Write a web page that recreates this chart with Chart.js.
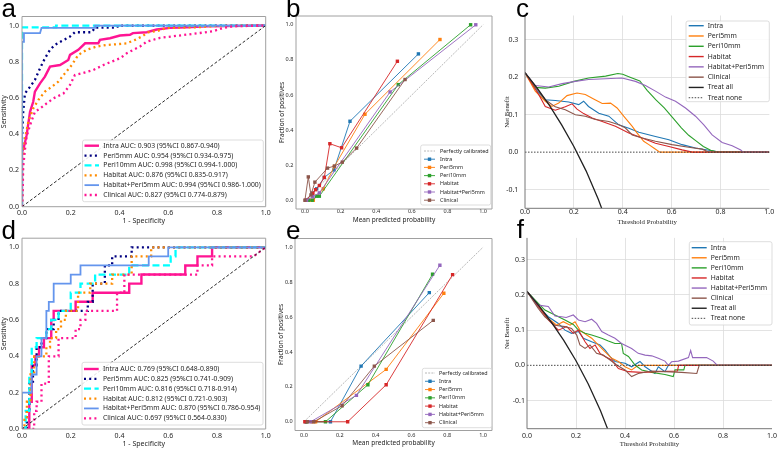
<!DOCTYPE html>
<html>
<head>
<meta charset="utf-8">
<script src="https://cdn.jsdelivr.net/npm/chart.js@4.4.1/dist/chart.umd.min.js"></script>
<style>
    html, body { margin: 0; padding: 0; background: #fff; }
    #wrap { position: relative; width: 777px; height: 449px; overflow: hidden; }
    #wrap canvas { position: absolute; left: 0; top: 0; }
</style>
</head>
<body>
<div id="wrap">
    <canvas id="pa" width="777" height="449"></canvas>
    <canvas id="pb" width="777" height="449"></canvas>
    <canvas id="pc" width="777" height="449"></canvas>
    <canvas id="pd" width="777" height="449"></canvas>
    <canvas id="pe" width="777" height="449"></canvas>
    <canvas id="pf" width="777" height="449"></canvas>
</div>
<script>
// ---------------- data ----------------
const models = ['Intra', 'Peri5mm', 'Peri10mm', 'Habitat', 'Habitat+Peri5mm', 'Clinical'];
const aucTrain = ['0.903', '0.954', '0.998', '0.876', '0.994', '0.827'];
const ciTrain = ['0.867-0.940', '0.934-0.975', '0.994-1.000', '0.835-0.917', '0.986-1.000', '0.774-0.879'];
const aucTest = ['0.769', '0.825', '0.816', '0.812', '0.870', '0.697'];
const ciTest = ['0.648-0.890', '0.741-0.909', '0.718-0.914', '0.721-0.903', '0.786-0.954', '0.564-0.830'];
const unitTicks = [0, 0.2, 0.4, 0.6, 0.8, 1.0];
const nbTicks = [-0.1, 0, 0.1, 0.2, 0.3];
const diagonal = [[0, 0], [1, 1]];

// ROC, training set (fpr, tpr)
const rocTrainIntra = [[0,0],[0,0.3],[0.008,0.33],[0.019,0.395],[0.033,0.524],[0.046,0.579],[0.053,0.635],[0.074,0.681],[0.094,0.718],[0.115,0.773],[0.156,0.782],[0.19,0.81],[0.197,0.838],[0.231,0.866],[0.259,0.902],[0.313,0.902],[0.32,0.921],[0.361,0.93],[0.402,0.945],[0.443,0.949],[0.455,0.958],[0.512,0.963],[0.553,0.978],[0.607,0.987],[0.676,0.991],[0.758,0.996],[1,1]];
const rocTrainPeri5 = [[0,0],[0,0.37],[0.005,0.524],[0.012,0.625],[0.033,0.662],[0.053,0.7],[0.074,0.764],[0.094,0.819],[0.115,0.866],[0.135,0.893],[0.163,0.915],[0.197,0.939],[0.217,0.963],[0.286,0.963],[0.3,0.989],[0.39,0.989],[0.395,1],[1,1]];
const rocTrainPeri10 = [[0,0],[0,0.99],[0.14,0.99],[0.14,1],[1,1]];
const rocTrainHabitat = [[0,0],[0.003,0.2],[0.005,0.28],[0.012,0.376],[0.026,0.469],[0.046,0.542],[0.067,0.589],[0.094,0.635],[0.122,0.662],[0.149,0.69],[0.176,0.736],[0.204,0.782],[0.231,0.838],[0.265,0.866],[0.306,0.884],[0.347,0.893],[0.389,0.897],[0.43,0.902],[0.464,0.921],[0.491,0.939],[0.518,0.963],[0.553,0.969],[0.594,0.987],[0.73,0.991],[0.765,0.996],[0.949,1],[1,1]];
const rocTrainHP = [[0,0],[0,0.91],[0.008,0.91],[0.008,0.958],[0.074,0.958],[0.08,0.987],[0.3,0.987],[0.3,1],[1,1]];
const rocTrainClinical = [[0,0],[0.003,0.1],[0.005,0.22],[0.012,0.314],[0.019,0.387],[0.033,0.45],[0.053,0.524],[0.074,0.542],[0.101,0.57],[0.129,0.598],[0.17,0.625],[0.197,0.672],[0.217,0.727],[0.245,0.736],[0.293,0.755],[0.334,0.782],[0.368,0.801],[0.402,0.819],[0.43,0.847],[0.457,0.866],[0.484,0.884],[0.512,0.911],[0.566,0.932],[0.621,0.941],[0.676,0.95],[0.73,0.959],[0.785,0.969],[0.826,0.987],[0.867,0.996],[1,1]];

// ROC, test set
const rocTestIntra = [[0,0],[0.03,0],[0.03,0.15],[0.04,0.15],[0.04,0.35],[0.055,0.35],[0.055,0.4],[0.07,0.4],[0.07,0.45],[0.09,0.45],[0.09,0.5],[0.12,0.5],[0.12,0.6],[0.13,0.6],[0.13,0.65],[0.22,0.65],[0.22,0.7],[0.29,0.7],[0.29,0.75],[0.44,0.75],[0.44,0.8],[0.49,0.8],[0.49,0.85],[0.67,0.85],[0.67,0.9],[0.72,0.9],[0.72,0.95],[0.78,0.95],[0.78,1],[1,1]];
const rocTestPeri5 = [[0,0],[0.02,0],[0.02,0.1],[0.03,0.1],[0.03,0.25],[0.045,0.25],[0.045,0.35],[0.06,0.35],[0.06,0.45],[0.08,0.45],[0.08,0.5],[0.1,0.5],[0.1,0.55],[0.13,0.55],[0.13,0.6],[0.15,0.6],[0.15,0.65],[0.27,0.65],[0.27,0.7],[0.29,0.7],[0.29,0.8],[0.34,0.8],[0.34,0.9],[0.37,0.9],[0.37,0.95],[0.45,0.95],[0.45,1],[1,1]];
const rocTestPeri10 = [[0,0],[0.015,0],[0.015,0.1],[0.03,0.1],[0.03,0.3],[0.04,0.3],[0.04,0.45],[0.06,0.45],[0.06,0.5],[0.1,0.5],[0.1,0.55],[0.12,0.55],[0.12,0.6],[0.15,0.6],[0.15,0.65],[0.2,0.65],[0.2,0.75],[0.24,0.75],[0.24,0.8],[0.3,0.8],[0.3,0.85],[0.44,0.85],[0.44,0.9],[0.61,0.9],[0.61,0.95],[0.63,0.95],[0.63,1],[1,1]];
const rocTestHabitat = [[0,0],[0.01,0],[0.01,0.05],[0.02,0.05],[0.02,0.15],[0.035,0.15],[0.035,0.3],[0.05,0.3],[0.05,0.4],[0.1,0.4],[0.1,0.45],[0.115,0.45],[0.115,0.5],[0.14,0.5],[0.14,0.55],[0.16,0.55],[0.16,0.6],[0.18,0.6],[0.18,0.65],[0.23,0.65],[0.23,0.75],[0.28,0.75],[0.28,0.8],[0.37,0.8],[0.37,0.85],[0.45,0.85],[0.45,0.95],[0.53,0.95],[0.53,1],[1,1]];
const rocTestHP = [[0,0],[0,0.2],[0.04,0.2],[0.04,0.3],[0.06,0.3],[0.06,0.4],[0.08,0.4],[0.08,0.5],[0.1,0.5],[0.1,0.65],[0.11,0.65],[0.11,0.7],[0.13,0.7],[0.13,0.8],[0.2,0.8],[0.2,0.85],[0.24,0.85],[0.24,0.9],[0.52,0.9],[0.52,0.95],[0.6,0.95],[0.6,1],[1,1]];
const rocTestClinical = [[0,0],[0.05,0],[0.05,0.1],[0.06,0.1],[0.06,0.15],[0.08,0.15],[0.08,0.25],[0.11,0.25],[0.11,0.4],[0.15,0.4],[0.15,0.5],[0.22,0.5],[0.22,0.55],[0.24,0.55],[0.24,0.6],[0.26,0.6],[0.26,0.65],[0.39,0.65],[0.39,0.75],[0.42,0.75],[0.42,0.85],[0.72,0.85],[0.72,0.9],[0.78,0.9],[0.78,0.95],[0.95,0.95],[1,1]];

// calibration, training set (mean predicted, fraction positive)
const calTrainIntra = [[0.01,0],[0.041,0.04],[0.066,0.065],[0.109,0.13],[0.163,0.173],[0.253,0.45],[0.637,0.834]];
const calTrainPeri5 = [[0.028,0],[0.047,0],[0.103,0.065],[0.165,0.192],[0.337,0.49],[0.758,0.916]];
const calTrainPeri10 = [[0.019,0],[0.041,0],[0.066,0.023],[0.081,0.023],[0.524,0.659],[0.93,1.0]];
const calTrainHabitat = [[0.005,0],[0.045,0.04],[0.06,0.06],[0.081,0.084],[0.109,0.13],[0.14,0.322],[0.206,0.299],[0.519,0.792]];
const calTrainHP = [[0.009,0],[0.045,0.02],[0.081,0.042],[0.478,0.617],[0.959,1.0]];
const calTrainClinical = [[0,0],[0.019,0.133],[0.034,0.03],[0.056,0.103],[0.127,0.183],[0.166,0.195],[0.21,0.217],[0.29,0.297],[0.562,0.688]];

// calibration, test set
const calTestIntra = [[0.01,0],[0.148,0],[0.319,0.319],[0.7,0.74]];
const calTestPeri5 = [[0.045,0],[0.065,0],[0.459,0.3],[0.781,0.736]];
const calTestPeri10 = [[0.015,0],[0.12,0],[0.357,0.212],[0.718,0.845]];
const calTestHabitat = [[0.005,0],[0.244,0],[0.459,0.212],[0.83,0.843]];
const calTestHP = [[0.037,0],[0.293,0.151],[0.759,0.897]];
const calTestClinical = [[0.019,0],[0.055,0],[0.213,0.092],[0.393,0.319],[0.722,0.581]];

// decision curves, training set (threshold, net benefit)
const dcaTrainIntra = [[0,0.212],[0.056,0.158],[0.083,0.14],[0.124,0.138],[0.179,0.134],[0.22,0.127],[0.24,0.136],[0.26,0.122],[0.302,0.104],[0.343,0.096],[0.384,0.073],[0.425,0.064],[0.466,0.053],[0.534,0.042],[0.589,0.033],[0.643,0.02],[0.698,0.011],[0.753,0.005],[0.794,0],[1,0]];
const dcaTrainPeri5 = [[0,0.212],[0.042,0.163],[0.083,0.136],[0.11,0.122],[0.138,0.131],[0.172,0.151],[0.213,0.158],[0.247,0.154],[0.281,0.142],[0.316,0.13],[0.35,0.131],[0.377,0.118],[0.404,0.096],[0.439,0.069],[0.459,0.051],[0.486,0.029],[0.507,0.02],[0.527,0.011],[0.552,0],[1,0]];
const dcaTrainPeri10 = [[0,0.212],[0.042,0.173],[0.083,0.171],[0.138,0.176],[0.2,0.189],[0.26,0.198],[0.33,0.203],[0.38,0.21],[0.4,0.208],[0.43,0.2],[0.47,0.19],[0.5,0.165],[0.535,0.14],[0.57,0.118],[0.607,0.09],[0.64,0.065],[0.67,0.045],[0.7,0.03],[0.73,0.015],[0.76,0.005],[0.79,0],[1,0]];
const dcaTrainHabitat = [[0,0.212],[0.056,0.154],[0.083,0.122],[0.124,0.112],[0.165,0.121],[0.193,0.129],[0.213,0.115],[0.24,0.103],[0.275,0.091],[0.316,0.082],[0.37,0.069],[0.425,0.051],[0.48,0.038],[0.534,0.024],[0.589,0.015],[0.643,0.006],[0.685,0],[1,0]];
const dcaTrainHP = [[0,0.212],[0.042,0.178],[0.097,0.174],[0.152,0.183],[0.206,0.189],[0.26,0.194],[0.33,0.196],[0.397,0.198],[0.452,0.189],[0.493,0.178],[0.534,0.163],[0.575,0.147],[0.616,0.136],[0.657,0.118],[0.698,0.096],[0.732,0.073],[0.766,0.046],[0.807,0.026],[0.848,0.017],[0.883,0.006],[0.892,0],[1,0]];
const dcaTrainClinical = [[0,0.212],[0.056,0.163],[0.083,0.14],[0.124,0.121],[0.165,0.113],[0.206,0.1],[0.247,0.096],[0.288,0.087],[0.343,0.082],[0.384,0.073],[0.41,0.065],[0.439,0.046],[0.48,0.038],[0.534,0.029],[0.602,0.02],[0.67,0.013],[0.725,0.008],[0.753,0],[1,0]];
const dcaTrainAll = [[0,0.212],[0.05,0.171],[0.1,0.125],[0.15,0.073],[0.2,0.015],[0.25,-0.05],[0.3,-0.126],[0.33,-0.178]];
const dcaNone = [[0,0],[1,0]];

// decision curves, test set
const dcaTestIntra = [[0,0.21],[0.046,0.167],[0.087,0.138],[0.128,0.119],[0.155,0.1],[0.182,0.091],[0.21,0.096],[0.23,0.077],[0.264,0.067],[0.298,0.058],[0.318,0.044],[0.339,0.025],[0.359,0.011],[0.4,0.006],[0.427,-0.004],[0.461,0.011],[0.482,-0.004],[0.522,-0.023],[0.536,-0.004],[0.563,-0.018],[0.577,0],[1,0]];
const dcaTestPeri5 = [[0,0.21],[0.046,0.171],[0.087,0.133],[0.121,0.114],[0.148,0.124],[0.176,0.114],[0.196,0.124],[0.216,0.1],[0.244,0.086],[0.264,0.077],[0.291,0.058],[0.318,0.039],[0.346,0.02],[0.373,0.011],[0.4,-0.004],[0.427,-0.013],[0.454,0],[1,0]];
const dcaTestPeri10 = [[0,0.21],[0.046,0.176],[0.073,0.157],[0.114,0.143],[0.155,0.129],[0.189,0.116],[0.21,0.1],[0.237,0.091],[0.264,0.086],[0.305,0.077],[0.332,0.069],[0.359,0.062],[0.386,0.062],[0.393,0.034],[0.414,0.025],[0.441,0.001],[0.468,-0.013],[0.509,-0.02],[0.563,-0.026],[0.597,-0.032],[0.604,-0.013],[0.64,-0.013],[0.645,0],[1,0]];
const dcaTestHabitat = [[0,0.21],[0.046,0.167],[0.087,0.129],[0.128,0.1],[0.162,0.11],[0.189,0.091],[0.21,0.1],[0.237,0.067],[0.257,0.048],[0.278,0.058],[0.298,0.034],[0.318,0.025],[0.346,0.015],[0.373,-0.009],[0.414,-0.018],[0.468,-0.02],[0.536,-0.018],[0.614,-0.016],[0.619,0],[1,0]];
const dcaTestHP = [[0,0.21],[0.046,0.171],[0.087,0.167],[0.114,0.14],[0.141,0.138],[0.16,0.136],[0.189,0.143],[0.21,0.129],[0.237,0.124],[0.264,0.131],[0.284,0.119],[0.305,0.096],[0.332,0.086],[0.359,0.077],[0.386,0.062],[0.427,0.048],[0.454,0.034],[0.482,0.029],[0.509,0.027],[0.536,0.02],[0.563,0.012],[0.577,0],[0.59,0.01],[0.618,0.012],[0.659,0.022],[0.668,0.042],[0.676,0.022],[0.733,0.022],[0.76,0.012],[0.777,0],[1,0]];
const dcaTestClinical = [[0,0.21],[0.046,0.162],[0.073,0.138],[0.114,0.114],[0.155,0.11],[0.182,0.105],[0.203,0.086],[0.216,0.058],[0.237,0.048],[0.257,0.058],[0.284,0.034],[0.311,0.029],[0.339,0.015],[0.366,0.001],[0.4,-0.013],[0.427,-0.032],[0.454,-0.023],[0.509,-0.016],[0.563,-0.018],[0.631,-0.02],[0.693,-0.023],[0.703,0],[1,0]];
const dcaTestAll = [[0,0.21],[0.05,0.168],[0.1,0.122],[0.15,0.071],[0.2,0.013],[0.25,-0.053],[0.3,-0.129],[0.34,-0.2]];

// ---------------- styling ----------------
const SANS = '"Noto Sans", "Open Sans", sans-serif';
const SERIF = '"Liberation Serif", "DejaVu Serif", serif';
const INK = '#262626';
const rocColors = ['#FF1493', '#000080', '#00FFFF', '#FF8C00', '#6495ED', '#FF1493'];
const rocDash = [[], [2, 3.2], [7, 3.5], [2, 3.2], [], [2, 3.2]];
const rocWidth = [2.4, 2.3, 2.3, 2.3, 1.8, 2.3];
const tab = ['#1f77b4', '#ff7f0e', '#2ca02c', '#d62728', '#9467bd', '#8c564b'];

const pts = arr => arr.map(p => ({x: p[0], y: p[1]}));

function rocSets(curves, auc, ci) {
    const sets = curves.map((c, i) => ({
        label: models[i] + ' AUC: ' + auc[i] + ' (95%CI ' + ci[i] + ')',
        data: pts(c), showLine: true, pointRadius: 0,
        borderColor: rocColors[i], borderWidth: rocWidth[i], borderDash: rocDash[i],
        order: -i
    }));
    sets.push({label: '', hideKey: true, data: pts(diagonal), showLine: true, pointRadius: 0,
        borderColor: '#111', borderWidth: 0.9, borderDash: [3, 2], order: -10});
    return sets;
}

function calSets(curves) {
    const sets = [{label: 'Perfectly calibrated', data: pts(diagonal), showLine: true, pointRadius: 0,
        borderColor: '#b0b0b0', borderWidth: 0.9, borderDash: [2, 1.2], order: 1}];
    curves.forEach((c, i) => sets.push({
        label: models[i], data: pts(c), showLine: true,
        borderColor: tab[i], borderWidth: 0.9, pointStyle: 'rect', pointRadius: 2.4,
        pointBorderWidth: 0, pointBackgroundColor: tab[i], order: -i
    }));
    return sets;
}

function dcaSets(curves, all) {
    const sets = curves.map((c, i) => ({
        label: models[i], data: pts(c), showLine: true, pointRadius: 0,
        borderColor: tab[i], borderWidth: 1.1, keyWidth: 1.4, order: -i
    }));
    sets.push({label: 'Treat all', data: pts(all), showLine: true, pointRadius: 0,
        borderColor: '#222', borderWidth: 1.3, keyWidth: 1.4, order: -8});
    sets.push({label: 'Treat none', data: pts(dcaNone), showLine: true, pointRadius: 0,
        borderColor: '#333', borderWidth: 0.9, borderDash: [1.5, 1.5], order: -9});
    return sets;
}

// ---------------- plugins ----------------
const framePlugin = {
    id: 'frame',
    afterDatasetsDraw(chart, args, o) {
        const a = chart.chartArea, c = chart.ctx;
        c.save();
        c.strokeStyle = o.color;
        c.lineWidth = 1;
        c.beginPath();
        if (o.full) {
            c.rect(a.left, a.top, a.right - a.left, a.bottom - a.top);
        } else {
            c.moveTo(a.left, a.top);
            c.lineTo(a.left, a.bottom);
            c.lineTo(a.right, a.bottom);
        }
        c.stroke();
        c.restore();
    }
};

const boxLegend = {
    id: 'boxLegend',
    afterDraw(chart, args, o) {
        const c = chart.ctx;
        const items = chart.data.datasets.filter(d => !d.hideKey);
        c.save();
        c.fillStyle = 'rgba(255,255,255,0.85)';
        c.strokeStyle = '#d4d4d4';
        c.lineWidth = 0.8;
        c.beginPath();
        c.roundRect(o.x, o.y, o.w, o.h, 2);
        c.fill();
        c.stroke();
        c.font = o.font;
        c.textBaseline = 'middle';
        items.forEach((d, i) => {
            const y = o.y0 + i * o.dy;
            c.save();
            c.strokeStyle = d.borderColor;
            c.lineWidth = d.keyWidth || d.borderWidth;
            c.setLineDash(d.borderDash || []);
            c.beginPath();
            c.moveTo(o.x0, y);
            c.lineTo(o.x1, y);
            c.stroke();
            c.restore();
            if (d.pointStyle === 'rect') {
                c.fillStyle = d.borderColor;
                c.fillRect((o.x0 + o.x1) / 2 - 1.7, y - 1.7, 3.4, 3.4);
            }
            c.fillStyle = INK;
            c.fillText(d.label, o.tx, y);
        });
        c.restore();
    }
};

const letterPlugin = {
    id: 'letter',
    afterDraw(chart, args, o) {
        const c = chart.ctx;
        c.save();
        c.font = '26px "Liberation Sans", Arial, sans-serif';
        c.fillStyle = '#000';
        c.textBaseline = 'alphabetic';
        c.fillText(o.text, o.x, o.y);
        c.restore();
    }
};

// ---------------- panels ----------------
function makePanel(id, p) {
    const tickFont = {family: SANS, size: p.tickSize};
    // no grid line on the first / last x tick, none on y = 0 (treat-none line sits there)
    const xGrid = ctx => (ctx.index === 0 || ctx.index === p.xTicks.length - 1) ? 'rgba(0,0,0,0)' : '#dcdcdc';
    const yGrid = ctx => (ctx.tick && Math.abs(ctx.tick.value) < 1e-9) ? 'rgba(0,0,0,0)' : '#dcdcdc';
    new Chart(document.getElementById(id), {
        type: 'scatter',
        data: {datasets: p.datasets},
        options: {
            responsive: false,
            animation: false,
            devicePixelRatio: 1,
            events: [],
            layout: {padding: {
                left: p.plot[0] - p.yW, top: p.plot[1],
                right: 777 - p.plot[2], bottom: 449 - p.plot[3] - p.xH
            }},
            plugins: {
                legend: {display: false},
                tooltip: {enabled: false},
                frame: {full: !p.grid, color: p.grid ? '#777' : '#a0a0a0'},
                boxLegend: p.legend,
                letter: p.letter
            },
            scales: {
                x: {
                    type: 'linear', position: 'bottom', min: p.xr[0], max: p.xr[1],
                    afterBuildTicks: s => { s.ticks = p.xTicks.map(v => ({value: v})); },
                    afterFit: s => { s.height = p.xH; s.paddingLeft = 0; s.paddingRight = 0; },
                    ticks: {font: tickFont, color: INK, padding: p.xPad, maxRotation: 0, autoSkip: false,
                        callback: v => v.toFixed(1)},
                    grid: {display: !!p.grid, drawTicks: false, lineWidth: 0.8, color: xGrid},
                    border: {display: false},
                    title: {display: true, text: p.xTitle, font: p.titleFont, color: INK, padding: 0}
                },
                y: {
                    type: 'linear', position: 'left', min: p.yr[0], max: p.yr[1],
                    afterBuildTicks: s => { s.ticks = p.yTicks.map(v => ({value: v})); },
                    afterFit: s => { s.width = p.yW; s.paddingTop = 0; s.paddingBottom = 0; },
                    ticks: {font: tickFont, color: INK, padding: p.yPad, autoSkip: false,
                        callback: v => v.toFixed(1)},
                    grid: {display: !!p.grid, drawTicks: false, lineWidth: 0.8, color: yGrid},
                    border: {display: false},
                    title: {display: true, text: p.yTitle, font: p.titleFont, color: INK, padding: 0}
                }
            }
        },
        plugins: [framePlugin, boxLegend, letterPlugin]
    });
}

const rocFont = {family: SANS, size: 7};
const calFont = {family: SANS, size: 6.5};
const dcaFont = {family: SERIF, size: 6.8};

makePanel('pa', {
    plot: [22, 16.5, 265.7, 206.7], yW: 22, xH: 18.2, xr: [0, 1], yr: [0, 1.05],
    xTicks: unitTicks, yTicks: unitTicks, tickSize: 7, xPad: 2.1, yPad: 3,
    xTitle: '1 - Specificity', yTitle: 'Sensitivity', titleFont: rocFont,
    datasets: rocSets([rocTrainIntra, rocTrainPeri5, rocTrainPeri10, rocTrainHabitat, rocTrainHP, rocTrainClinical], aucTrain, ciTrain),
    legend: {x: 82.5, y: 140, w: 180.8, h: 61.7, y0: 145.7, dy: 9.86, x0: 84.5, x1: 99, tx: 103.3, font: '6.8px ' + SANS},
    letter: {text: 'a', x: 1.5, y: 16.7}
});

makePanel('pd', {
    plot: [22, 238.2, 265.7, 429], yW: 22, xH: 19.5, xr: [0, 1], yr: [0, 1.05],
    xTicks: unitTicks, yTicks: unitTicks, tickSize: 7, xPad: 2.5, yPad: 3,
    xTitle: '1 - Specificity', yTitle: 'Sensitivity', titleFont: rocFont,
    datasets: rocSets([rocTestIntra, rocTestPeri5, rocTestPeri10, rocTestHabitat, rocTestHP, rocTestClinical], aucTest, ciTest),
    legend: {x: 82, y: 362.3, w: 181, h: 62.7, y0: 369, dy: 9.86, x0: 84, x1: 98.7, tx: 103, font: '6.8px ' + SANS},
    letter: {text: 'd', x: 1.5, y: 239}
});

makePanel('pb', {
    plot: [296, 16, 492, 209], yW: 18, xH: 14.9, xr: [-0.05, 1.05], yr: [-0.05, 1.05],
    xTicks: unitTicks, yTicks: unitTicks, tickSize: 5.5, xPad: -1.3, yPad: 2.7,
    xTitle: 'Mean predicted probability', yTitle: 'Fraction of positives', titleFont: calFont,
    datasets: calSets([calTrainIntra, calTrainPeri5, calTrainPeri10, calTrainHabitat, calTrainHP, calTrainClinical]),
    legend: {x: 420.7, y: 145, w: 70, h: 60, y0: 151, dy: 8.2, x0: 424, x1: 435, tx: 440, font: '5.4px ' + SANS},
    letter: {text: 'b', x: 286, y: 16.7}
});

makePanel('pe', {
    plot: [295, 238.5, 492, 430.5], yW: 18, xH: 16.7, xr: [-0.05, 1.05], yr: [-0.05, 1.05],
    xTicks: unitTicks, yTicks: unitTicks, tickSize: 5.5, xPad: 1.9, yPad: 2.3,
    xTitle: 'Mean predicted probability', yTitle: 'Fraction of positives', titleFont: calFont,
    datasets: calSets([calTestIntra, calTestPeri5, calTestPeri10, calTestHabitat, calTestHP, calTestClinical]),
    legend: {x: 422.3, y: 368.3, w: 69.4, h: 59.4, y0: 373, dy: 8.28, x0: 425, x1: 435, tx: 439, font: '5.4px ' + SANS},
    letter: {text: 'e', x: 286, y: 239}
});

makePanel('pc', {
    plot: [525, 15.5, 769.3, 208.3], yW: 22, xH: 17.5, xr: [0, 1], yr: [-0.15, 0.365], grid: true,
    xTicks: unitTicks, yTicks: nbTicks, tickSize: 7, xPad: -0.8, yPad: 6.7,
    xTitle: 'Threshold Probability', yTitle: 'Net Benefit', titleFont: dcaFont,
    datasets: dcaSets([dcaTrainIntra, dcaTrainPeri5, dcaTrainPeri10, dcaTrainHabitat, dcaTrainHP, dcaTrainClinical], dcaTrainAll),
    legend: {x: 686, y: 21, w: 83.3, h: 80.7, y0: 25.7, dy: 10.29, x0: 688.7, x1: 703.7, tx: 707.7, font: '6.8px ' + SANS},
    letter: {text: 'c', x: 516, y: 16.7}
});

makePanel('pf', {
    plot: [527, 237.9, 772, 428.7], yW: 24, xH: 19.7, xr: [0, 1], yr: [-0.18, 0.362], grid: true,
    xTicks: unitTicks, yTicks: nbTicks, tickSize: 7, xPad: 2.8, yPad: 2,
    xTitle: 'Threshold Probability', yTitle: 'Net Benefit', titleFont: dcaFont,
    datasets: dcaSets([dcaTestIntra, dcaTestPeri5, dcaTestPeri10, dcaTestHabitat, dcaTestHP, dcaTestClinical], dcaTestAll),
    legend: {x: 689.3, y: 241.7, w: 82.7, h: 83.3, y0: 247.7, dy: 10.09, x0: 691.7, x1: 706.7, tx: 710.7, font: '6.8px ' + SANS},
    letter: {text: 'f', x: 516.7, y: 238.3}
});
</script>
</body>
</html>
